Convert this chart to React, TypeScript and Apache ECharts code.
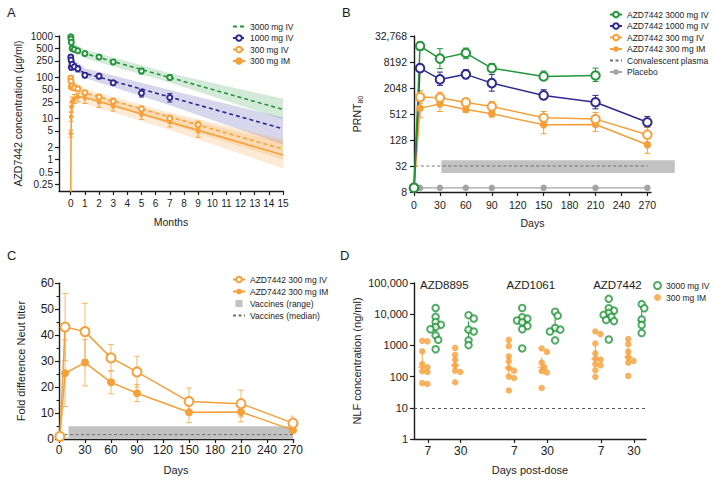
import React, { useEffect, useRef } from 'react';
import * as echarts from 'echarts';

const FONT = '"Liberation Sans", Arial, Helvetica, sans-serif';
const INK = '#1c1c1c';
const GREEN = '#23963b';
const PURPLE = '#2e2a8f';
const ORANGE = '#f6a03a';
const ORANGE_ERR = 'rgba(246,160,58,0.75)';
const GREY = '#a3a3a3';
const BAND_GREY = '#c2c2c2';

// ---------------- Panel A : PK (months, µg/ml) ----------------
const A_MONTH_TICKS = [0, 1, 2, 3, 4, 5, 6, 7, 8, 9, 10, 11, 12, 13, 14, 15];
const A_CONC_TICKS = [0.25, 0.5, 1, 2, 5, 10, 25, 50, 100, 250, 500, 1000];
const A_OBS_T = [0, 0.02, 0.04, 0.1, 0.25, 0.5, 1, 2, 3, 5, 7];
const A_OBS_T9 = [0, 0.02, 0.04, 0.1, 0.25, 0.5, 1, 2, 3, 5, 7, 9];
const A_3000IV = [960, 850, 700, 500, 470, 440, 375, 310, 235, 142, 98];
const A_3000IV_LO = [850, 760, 620, 440, 420, 400, 330, 275, 205, 120, 85];
const A_3000IV_HI = [1050, 950, 790, 560, 530, 490, 420, 350, 270, 165, 115];
const A_1000IV = [310, 260, 175, 205, 180, 160, 112, 106, 73, 41, 32];
const A_1000IV_LO = [270, 225, 150, 180, 155, 135, 97, 92, 64, 33, 25];
const A_1000IV_HI = [355, 300, 205, 235, 210, 190, 130, 122, 83, 51, 40];
const A_300IV = [95, 80, 58, 62, 55, 52, 42, 33, 26, 17, 10, 7];
const A_300IV_LO = [82, 68, 50, 54, 48, 45, 37, 28, 22, 14, 8.5, 5.6];
const A_300IV_HI = [110, 93, 67, 71, 63, 60, 48, 38, 31, 20, 12, 8.6];
const A_300IM = [4.3, 11, 19, 26, 30, 33, 31, 24.5, 19.5, 12.3, 8.1, 4.8];
const A_300IM_LO = [3.5, 8.5, 15, 20, 23, 25, 23, 18.5, 15, 9.5, 6.2, 3.5];
const A_300IM_HI = [5.2, 14, 24, 33, 38, 40, 40, 31, 25, 15.5, 10.5, 6.5];
// model (population PK) lines
const A_MODEL_T = [0.05, 0.25, 0.5, 1, 15];
const A_MODEL_3000 = [600, 480, 430, 375, 16.5];
const A_MODEL_1000 = [240, 190, 155, 125, 5.6];
const A_MODEL_300IV = [75, 58, 50, 42, 1.8];
const A_MODEL_IM_T = [0, 0.02, 0.05, 0.1, 0.2, 0.35, 0.5, 1, 15];
const A_MODEL_300IM = [0.1, 4.3, 12, 20, 27, 32, 34, 32, 1.3];
// prediction intervals
const A_BAND_T = [0.05, 1, 7, 15];
const A_BAND_3000_UP = [700, 470, 125, 30];
const A_BAND_3000_LO = [480, 290, 74, 9.5];
const A_BAND_1000_UP = [300, 165, 49, 10.5];
const A_BAND_1000_LO = [190, 95, 21, 2.3];
const A_BAND_300IV_UP = [90, 52, 14, 3.1];
const A_BAND_300IV_LO = [60, 33, 7.2, 1.0];
const A_BAND_IM_T = [0.02, 0.05, 0.2, 0.5, 1, 7, 15];
const A_BAND_300IM_UP = [8, 20, 36, 44, 42, 12, 2.6];
const A_BAND_300IM_LO = [2, 7, 20, 25, 23, 5.2, 0.62];

// ---------------- Panel B : PRNT80 (days) ----------------
const B_DAY_TICKS = [0, 30, 60, 90, 120, 150, 180, 210, 240, 270];
const B_DAYS = [0, 7, 30, 60, 90, 150, 210, 270];
const B_DAYS_3000 = [0, 7, 30, 60, 90, 150, 210];
const B_3000IV = [10, 19200, 9800, 13200, 5900, 3800, 4000];
const B_3000IV_LO = [10, 15300, 5750, 9800, 5250, 3200, 2900];
const B_3000IV_HI = [10, 23800, 16700, 17200, 7500, 5050, 5900];
const B_1000IV = [10, 5900, 3240, 4240, 2660, 1380, 960, 330];
const B_1000IV_LO = [10, 4970, 2350, 3370, 1730, 1100, 675, 252];
const B_1000IV_HI = [10, 7100, 4780, 5440, 4240, 1870, 1380, 450];
const B_300IV = [10, 1260, 1220, 950, 765, 420, 390, 170];
const B_300IV_LO = [10, 885, 850, 765, 585, 290, 277, 114];
const B_300IV_HI = [10, 1800, 1640, 1150, 1000, 585, 555, 252];
const B_300IM = [10, 700, 870, 650, 520, 288, 292, 99];
const B_300IM_LO = [10, 420, 585, 555, 435, 178, 202, 63];
const B_300IM_HI = [10, 1050, 1190, 765, 620, 435, 420, 162];
const B_PLACEBO = [10, 10, 10, 10, 10, 10, 10, 10];
const B_CONV_DAYS = [1.5, 270];
const B_CONV_MEDIAN = 32;
const B_CONV_RANGE_DAYS = [31.6, 301.7];
const B_CONV_RANGE = [22, 43.5];

// ---------------- Panel C : fold difference ----------------
const C_DAYS = [1, 7, 30, 60, 90, 150, 210, 270];
const C_300IV = [1.0, 43.1, 41.3, 31.2, 25.8, 14.4, 13.6, 6.1];
const C_300IV_LO = [null, 30.1, 30.5, 26.2, 20.0, 9.3, 8.5, 3.5];
const C_300IV_HI = [null, 56.0, 52.2, 36.3, 31.8, 19.6, 18.8, 8.8];
const C_300IM = [0.5, 25.3, 29.4, 21.8, 17.6, 10.3, 10.4, 3.4];
const C_300IM_LO = [null, 12.5, 20.4, 17.4, 14.4, 6.3, 6.6, 2.3];
const C_300IM_HI = [null, 38.1, 38.2, 26.2, 21.0, 14.0, 14.1, 4.5];
const C_VAX_RANGE_DAYS = [11, 270];
const C_VAX_RANGE = [0.4, 4.9];
const C_VAX_MEDIAN_DAYS = [0, 270];
const C_VAX_MEDIAN = 1.7;

// ---------------- Panel D : nasal lining fluid ----------------
const D_GROUPS = ['AZD8895', 'AZD1061', 'AZD7442'];
const D_8895_IM_D7 = [1400, 1350, 650, 250, 200, 150, 140, 62, 58];
const D_8895_IV_D7 = [15800, 8200, 5600, 4600, 3900, 3300, 2100, 1500, 750];
const D_8895_IM_D30 = [830, 500, 350, 230, 155, 140, 66];
const D_8895_IV_D30 = [9300, 7300, 3200, 2800, 1450, 1020];
const D_1061_IM_D7 = [1500, 950, 450, 310, 190, 155, 100, 90, 36];
const D_1061_IV_D7 = [15800, 8000, 7200, 6300, 5500, 4200, 3300, 800];
const D_1061_IM_D30 = [800, 620, 280, 200, 150, 135, 43];
const D_1061_IV_D30 = [12000, 9000, 3600, 3200, 2800, 1450];
const D_7442_IM_D7 = [2800, 2300, 1150, 560, 380, 350, 250, 230, 160, 98];
const D_7442_IV_D7 = [31000, 15500, 13000, 11000, 9500, 8300, 6500, 6000, 1550];
const D_7442_IM_D30 = [1600, 1100, 630, 420, 320, 280, 105];
const D_7442_IV_D30 = [21000, 15500, 6800, 5800, 4500, 2500];
const D_LLOQ = 10;

const L10 = (v: number) => Math.log10(v);
const L2 = (v: number) => Math.log2(v);

function errBars(idx: number, xs: number[], lo: any[], hi: any[], tf: (v: number) => number, color: string, cap: number, width = 1) {
  const data: number[][] = [];
  xs.forEach((x, i) => {
    if (lo[i] != null && hi[i] != null) data.push([x, tf(lo[i]), tf(hi[i])]);
  });
  return {
    type: 'custom', xAxisIndex: idx, yAxisIndex: idx, silent: true, z: 2, clip: true,
    encode: { x: 0, y: [1, 2] },
    data,
    renderItem: (_p: any, api: any) => {
      const x = api.value(0);
      const a = api.coord([x, api.value(1)]);
      const b = api.coord([x, api.value(2)]);
      const st = { stroke: color, lineWidth: width };
      return {
        type: 'group', children: [
          { type: 'line', shape: { x1: a[0], y1: a[1], x2: b[0], y2: b[1] }, style: st },
          { type: 'line', shape: { x1: a[0] - cap, y1: a[1], x2: a[0] + cap, y2: a[1] }, style: st },
          { type: 'line', shape: { x1: b[0] - cap, y1: b[1], x2: b[0] + cap, y2: b[1] }, style: st },
        ],
      };
    },
  };
}

function band(idx: number, ts: number[], up: number[], lo: number[], fill: string) {
  return {
    type: 'custom', xAxisIndex: idx, yAxisIndex: idx, silent: true, z: 1, clip: true,
    encode: { x: 0, y: [1, 2] },
    data: ts.map((t, i) => [t, L10(lo[i]), L10(up[i])]),
    renderItem: (p: any, api: any) => {
      if (p.dataIndex !== 0) return null;
      const pts: number[][] = [];
      for (let i = 0; i < ts.length; i++) pts.push(api.coord([ts[i], L10(up[i])]));
      for (let i = ts.length - 1; i >= 0; i--) pts.push(api.coord([ts[i], L10(lo[i])]));
      return { type: 'polygon', shape: { points: pts }, style: { fill } };
    },
  };
}

function rectBand(idx: number, name: string | undefined, xr: number[], yr: number[], tf: (v: number) => number, fill: string) {
  return {
    type: 'custom', name, xAxisIndex: idx, yAxisIndex: idx, silent: true, z: 1,
    itemStyle: { color: fill },
    encode: { x: [0, 2], y: [1, 3] },
    data: [[xr[0], tf(yr[0]), xr[1], tf(yr[1])]],
    renderItem: (_p: any, api: any) => {
      const a = api.coord([api.value(0), api.value(1)]);
      const b = api.coord([api.value(2), api.value(3)]);
      return { type: 'rect', shape: { x: a[0], y: b[1], width: b[0] - a[0], height: a[1] - b[1] }, style: { fill } };
    },
  };
}

function lineS(name: string | undefined, idx: number, xs: number[], ys: number[], tf: (v: number) => number, color: string, opt: any = {}) {
  return {
    type: 'line', name, xAxisIndex: idx, yAxisIndex: idx, silent: true, z: 3,
    data: xs.map((x, i) => [x, tf(ys[i])]),
    symbol: opt.symbol ?? 'none',
    showSymbol: opt.showSymbol ?? true,
    symbolSize: opt.size ?? 8,
    itemStyle: { color: opt.fill ?? color, borderColor: color, borderWidth: opt.bw ?? 1.4 },
    lineStyle: { color, width: opt.width ?? 1.5, type: opt.dash ?? 'solid' },
    clip: true,
  };
}

function scat(idx: number, xs: number[], ys: number[], tf: (v: number) => number, color: string, empty: boolean, size: number) {
  return {
    type: 'scatter', xAxisIndex: idx, yAxisIndex: idx, silent: true, z: 4,
    data: xs.map((x, i) => [x, tf(ys[i])]),
    symbol: empty ? 'emptyCircle' : 'circle',
    symbolSize: size,
    itemStyle: { color, borderColor: color, borderWidth: empty ? 1.1 : 0, opacity: 1 },
  };
}

// beeswarm placement (layout only, from the values)
const D_PX_PER_DEC = 31.26;
const D_PX_PER_UNIT = 86.6;
function swarm(values: number[], center: number, diam: number) {
  const order = values.map((_v, i) => i).sort((a, b) => values[b] - values[a]);
  const placed: { x: number; y: number }[] = [];
  const res: number[] = new Array(values.length);
  const step = 2.6;
  for (const i of order) {
    const y = L10(values[i]) * D_PX_PER_DEC;
    let chosen = 0;
    for (let k = 0; k < 7; k++) {
      const off = k === 0 ? 0 : (k % 2 === 1 ? 1 : -1) * Math.ceil(k / 2) * step;
      chosen = off;
      if (placed.every((p) => Math.hypot(p.x - off, p.y - y) >= diam * 0.72)) break;
    }
    placed.push({ x: chosen, y });
    res[i] = center + chosen / D_PX_PER_UNIT;
  }
  return res;
}
function quant(sorted: number[], p: number) {
  const idx = (sorted.length - 1) * p;
  const lo = Math.floor(idx), hi = Math.ceil(idx);
  return sorted[lo] + (sorted[hi] - sorted[lo]) * (idx - lo);
}

function axisStyle(fontSize: number) {
  return {
    axisLine: { show: true, onZero: false, lineStyle: { color: INK, width: 1.4 } },
    axisTick: { show: true, length: 4, lineStyle: { color: INK, width: 1.2 } },
    splitLine: { show: false },
    nameLocation: 'middle' as const,
    nameMoveOverlap: false,
    nameTextStyle: { color: INK, fontSize: 10.5, fontFamily: FONT },
    axisLabel: { color: INK, fontSize, fontFamily: FONT },
  };
}

function fmtLog(ticks: number[]) {
  return (v: number) => {
    let best = ticks[0];
    for (const t of ticks) if (Math.abs(Math.log10(t) - v) < Math.abs(Math.log10(best) - v)) best = t;
    return String(best);
  };
}

function buildOption() {
  const series: any[] = [];

  // ---- A ----
  series.push(band(0, A_BAND_T, A_BAND_3000_UP, A_BAND_3000_LO, 'rgba(35,150,59,0.20)'));
  series.push(band(0, A_BAND_T, A_BAND_1000_UP, A_BAND_1000_LO, 'rgba(60,52,160,0.20)'));
  series.push(band(0, A_BAND_T, A_BAND_300IV_UP, A_BAND_300IV_LO, 'rgba(246,160,58,0.22)'));
  series.push(band(0, A_BAND_IM_T, A_BAND_300IM_UP, A_BAND_300IM_LO, 'rgba(246,160,58,0.22)'));
  series.push(lineS('A:3000 mg IV', 0, A_MODEL_T, A_MODEL_3000, L10, GREEN, { symbol: 'emptyCircle', showSymbol: false, dash: [4, 3], width: 1.6, size: 5 }));
  series.push(lineS('A:1000 mg IV', 0, A_MODEL_T, A_MODEL_1000, L10, PURPLE, { symbol: 'emptyCircle', showSymbol: false, dash: [4, 3], width: 1.6, size: 5 }));
  series.push(lineS('A:300 mg IV', 0, A_MODEL_T, A_MODEL_300IV, L10, ORANGE, { symbol: 'emptyCircle', showSymbol: false, dash: [4, 3], width: 1.6, size: 5 }));
  series.push(lineS('A:300 mg IM', 0, A_MODEL_IM_T, A_MODEL_300IM, L10, ORANGE, { symbol: 'circle', showSymbol: false, width: 1.6, size: 5 }));
  series.push(errBars(0, A_OBS_T, A_3000IV_LO, A_3000IV_HI, L10, GREEN, 2.5));
  series.push(errBars(0, A_OBS_T, A_1000IV_LO, A_1000IV_HI, L10, PURPLE, 2.5));
  series.push(errBars(0, A_OBS_T9, A_300IV_LO, A_300IV_HI, L10, ORANGE, 2.5));
  series.push(errBars(0, A_OBS_T9, A_300IM_LO, A_300IM_HI, L10, ORANGE, 2.5));
  series.push(scat(0, A_OBS_T, A_3000IV, L10, GREEN, true, 5));
  series.push(scat(0, A_OBS_T, A_1000IV, L10, PURPLE, true, 5));
  series.push(scat(0, A_OBS_T9, A_300IV, L10, ORANGE, true, 5));
  series.push(scat(0, A_OBS_T9, A_300IM, L10, ORANGE, false, 4.5));

  // ---- B ----
  series.push(rectBand(1, undefined, B_CONV_RANGE_DAYS, B_CONV_RANGE, L2, BAND_GREY));
  series.push(lineS('B:Convalescent plasma', 1, B_CONV_DAYS, [B_CONV_MEDIAN, B_CONV_MEDIAN], L2, '#707070', { dash: [3, 2.5], width: 1 }));
  series.push(lineS('B:Placebo', 1, B_DAYS, B_PLACEBO, L2, GREY, { symbol: 'circle', size: 6.5, width: 1.2, bw: 0 }));
  series.push(errBars(1, B_DAYS_3000, B_3000IV_LO, B_3000IV_HI, L2, GREEN, 3));
  series.push(errBars(1, B_DAYS, B_1000IV_LO, B_1000IV_HI, L2, PURPLE, 3));
  series.push(errBars(1, B_DAYS, B_300IV_LO, B_300IV_HI, L2, ORANGE, 3));
  series.push(errBars(1, B_DAYS, B_300IM_LO, B_300IM_HI, L2, ORANGE, 3));
  series.push(lineS('B:AZD7442 300 mg IM', 1, B_DAYS, B_300IM, L2, ORANGE, { symbol: 'circle', size: 7.5, bw: 0 }));
  series.push(lineS('B:AZD7442 300 mg IV', 1, B_DAYS, B_300IV, L2, ORANGE, { symbol: 'emptyCircle', size: 8.5 }));
  series.push(lineS('B:AZD7442 1000 mg IV', 1, B_DAYS, B_1000IV, L2, PURPLE, { symbol: 'emptyCircle', size: 8.5 }));
  series.push(lineS('B:AZD7442 3000 mg IV', 1, B_DAYS_3000, B_3000IV, L2, GREEN, { symbol: 'emptyCircle', size: 8.5 }));

  // ---- C ----
  const id = (v: number) => v;
  series.push(rectBand(2, 'C:Vaccines (range)', C_VAX_RANGE_DAYS, C_VAX_RANGE, id, BAND_GREY));
  series.push(lineS('C:Vaccines (median)', 2, C_VAX_MEDIAN_DAYS, [C_VAX_MEDIAN, C_VAX_MEDIAN], id, '#707070', { dash: [3, 2.5], width: 1 }));
  series.push(errBars(2, C_DAYS, C_300IV_LO, C_300IV_HI, id, ORANGE_ERR, 3));
  series.push(errBars(2, C_DAYS, C_300IM_LO, C_300IM_HI, id, ORANGE_ERR, 3));
  series.push(lineS('C:AZD7442 300 mg IM', 2, C_DAYS, C_300IM, id, ORANGE, { symbol: 'circle', size: 8, bw: 0 }));
  series.push(lineS('C:AZD7442 300 mg IV', 2, C_DAYS, C_300IV, id, ORANGE, { symbol: 'emptyCircle', size: 9 }));

  // ---- D ----
  const clusters = [
    { g: 0, day: 7, im: D_8895_IM_D7, iv: D_8895_IV_D7 },
    { g: 0, day: 30, im: D_8895_IM_D30, iv: D_8895_IV_D30 },
    { g: 1, day: 7, im: D_1061_IM_D7, iv: D_1061_IV_D7 },
    { g: 1, day: 30, im: D_1061_IM_D30, iv: D_1061_IV_D30 },
    { g: 2, day: 7, im: D_7442_IM_D7, iv: D_7442_IV_D7 },
    { g: 2, day: 30, im: D_7442_IM_D30, iv: D_7442_IV_D30 },
  ];
  const imPts: number[][] = [];
  const ivPts: number[][] = [];
  const imStats: number[][] = [];
  const ivStats: number[][] = [];
  clusters.forEach((c) => {
    const tick = c.g + (c.day === 7 ? -0.19 : 0.19);
    const arms: [number[], number, number[][], number[][]][] = [
      [c.im, tick - 0.065, imPts, imStats],
      [c.iv, tick + 0.09, ivPts, ivStats],
    ];
    arms.forEach(([vals, center, pts, stats]) => {
      const xs = swarm(vals, center, 6.4);
      vals.forEach((v, i) => pts.push([xs[i], L10(v)]));
      const s = vals.map(L10).sort((a, b) => a - b);
      stats.push([center, quant(s, 0.25), quant(s, 0.75), quant(s, 0.5)]);
    });
  });
  const iqr = (data: number[][], color: string) => ({
    type: 'custom', xAxisIndex: 3, yAxisIndex: 3, silent: true, z: 2,
    encode: { x: 0, y: [1, 2, 3] },
    data,
    renderItem: (_p: any, api: any) => {
      const x = api.value(0);
      const a = api.coord([x, api.value(1)]);
      const b = api.coord([x, api.value(2)]);
      const m = api.coord([x, api.value(3)]);
      const st = { stroke: color, lineWidth: 1 };
      return {
        type: 'group', children: [
          { type: 'line', shape: { x1: a[0], y1: a[1], x2: b[0], y2: b[1] }, style: st },
          { type: 'line', shape: { x1: m[0] - 4, y1: m[1], x2: m[0] + 4, y2: m[1] }, style: st },
        ],
      };
    },
  });
  series.push(iqr(imStats, ORANGE));
  series.push(iqr(ivStats, GREEN));
  series.push({
    type: 'scatter', name: 'D:300 mg IM', xAxisIndex: 3, yAxisIndex: 3, silent: true, z: 4,
    data: imPts, symbol: 'circle', symbolSize: 6.5, itemStyle: { color: ORANGE },
    markLine: {
      silent: true, symbol: 'none', label: { show: false },
      lineStyle: { color: '#555', type: [3, 3], width: 1 },
      data: [{ yAxis: L10(D_LLOQ) }],
    },
  });
  series.push({
    type: 'scatter', name: 'D:3000 mg IV', xAxisIndex: 3, yAxisIndex: 3, silent: true, z: 4,
    data: ivPts, symbol: 'emptyCircle', symbolSize: 6.5,
    itemStyle: { color: GREEN, borderColor: GREEN, borderWidth: 1.1 },
  });

  const grids = [
    { left: 59, top: 36, width: 224, height: 155 },
    { left: 414, top: 36, width: 237, height: 156 },
    { left: 59, top: 283, width: 234, height: 156 },
    { left: 414, top: 283, width: 232, height: 156 },
  ].map((g) => ({ ...g, containLabel: false, outerBoundsMode: 'none' }));

  const ax = (fs: number) => axisStyle(fs);
  const xAxis: any[] = [
    {
      ...ax(10), gridIndex: 0, type: 'value', min: -0.83, max: 15, name: 'Months', nameGap: 25,
      axisTick: { ...ax(10).axisTick, customValues: A_MONTH_TICKS },
      axisLabel: { ...ax(10).axisLabel, customValues: A_MONTH_TICKS, margin: 7 },
    },
    {
      ...ax(10.5), gridIndex: 1, type: 'value', min: 0, max: 274.2, name: 'Days', nameGap: 25,
      axisTick: { ...ax(10.5).axisTick, customValues: B_DAY_TICKS },
      axisLabel: { ...ax(10.5).axisLabel, customValues: B_DAY_TICKS, margin: 7 },
    },
    {
      ...ax(12), gridIndex: 2, type: 'value', min: 0, max: 270, interval: 30, name: 'Days', nameGap: 25,
      nameTextStyle: { ...ax(12).nameTextStyle, fontSize: 11 },
      axisLabel: { ...ax(12).axisLabel, margin: 5 },
    },
    {
      ...ax(12), gridIndex: 3, type: 'value', min: -0.35, max: 2.33, name: 'Days post-dose', nameGap: 25,
      nameTextStyle: { ...ax(12).nameTextStyle, fontSize: 11 },
      axisTick: { ...ax(12).axisTick, customValues: [-0.19, 0.19, 0.81, 1.19, 1.81, 2.19] },
      axisLabel: {
        ...ax(12).axisLabel, margin: 6,
        customValues: [-0.19, 0.19, 0.81, 1.19, 1.81, 2.19],
        formatter: (v: number) => (v - Math.round(v) < 0 ? '7' : '30'),
      },
    },
    {
      gridIndex: 3, type: 'value', position: 'top', min: -0.35, max: 2.33,
      axisLine: { show: false, onZero: false }, axisTick: { show: false }, splitLine: { show: false },
      axisLabel: {
        color: INK, fontSize: 11.5, fontFamily: FONT, margin: -8,
        customValues: [0, 1, 2],
        formatter: (v: number) => D_GROUPS[Math.round(v)],
      },
    },
  ];

  const aTickVals = A_CONC_TICKS.map(L10);
  const yAxis: any[] = [
    {
      ...ax(10), gridIndex: 0, type: 'value', min: -0.762, max: 3,
      name: 'AZD7442 concentration (µg/ml)', nameGap: 36,
      axisTick: { ...ax(10).axisTick, customValues: aTickVals },
      axisLabel: { ...ax(10).axisLabel, customValues: aTickVals, margin: 6, formatter: fmtLog(A_CONC_TICKS) },
    },
    {
      ...ax(10.5), gridIndex: 1, type: 'value', min: 3, max: 15, interval: 2,
      name: '{a|PRNT}{b|80}', nameGap: 50,
      nameTextStyle: {
        color: INK, fontFamily: FONT,
        rich: {
          a: { fontSize: 10.5, fontFamily: FONT, color: INK, lineHeight: 15 },
          b: { fontSize: 7, fontFamily: FONT, color: INK, verticalAlign: 'bottom' },
        },
      },
      axisLabel: {
        ...ax(10.5).axisLabel, margin: 7,
        formatter: (v: number) => {
          const n = Math.round(Math.pow(2, v));
          return n >= 10000 ? n.toLocaleString('en-US') : String(n);
        },
      },
    },
    {
      ...ax(12), gridIndex: 2, type: 'value', min: 0, max: 60, interval: 10,
      name: 'Fold difference Neut titer', nameGap: 33,
      nameTextStyle: { ...ax(12).nameTextStyle, fontSize: 11 },
      minorTick: { show: true, splitNumber: 2, length: 2.5, lineStyle: { color: INK, width: 1 } },
      axisLabel: { ...ax(12).axisLabel, margin: 5 },
    },
    {
      ...ax(11), gridIndex: 3, type: 'value', min: 0, max: 5, interval: 1,
      name: 'NLF concentration (ng/ml)', nameGap: 52,
      nameTextStyle: { ...ax(11).nameTextStyle, fontSize: 11 },
      axisLabel: {
        ...ax(11).axisLabel, margin: 6,
        formatter: (v: number) => {
          const n = Math.round(Math.pow(10, v));
          return n >= 10000 ? n.toLocaleString('en-US') : String(n);
        },
      },
    },
  ];

  const legBase = {
    orient: 'vertical', padding: 0, itemGap: 2.5, selectedMode: false,
    formatter: (n: string) => n.slice(2),
    textStyle: { fontSize: 8.5, color: INK, fontFamily: FONT },
  };
  const legend = [
    {
      ...legBase, left: 232, top: 22, itemWidth: 12, itemHeight: 7,
      data: [{ name: 'A:3000 mg IV', itemStyle: { opacity: 0 } }, 'A:1000 mg IV', 'A:300 mg IV', 'A:300 mg IM'],
    },
    {
      ...legBase, left: 609, top: 10, itemWidth: 12, itemHeight: 7, itemGap: 2.5,
      data: ['B:AZD7442 3000 mg IV', 'B:AZD7442 1000 mg IV', 'B:AZD7442 300 mg IV', 'B:AZD7442 300 mg IM',
        { name: 'B:Convalescent plasma', itemStyle: { opacity: 0 } }, 'B:Placebo'],
    },
    {
      ...legBase, left: 232, top: 275, itemWidth: 12, itemHeight: 7, itemGap: 3,
      data: ['C:AZD7442 300 mg IV', 'C:AZD7442 300 mg IM',
        { name: 'C:Vaccines (range)', icon: 'path://M0,0H10V10H0Z' },
        { name: 'C:Vaccines (median)', itemStyle: { opacity: 0 } }],
    },
    {
      ...legBase, left: 653, top: 281, itemWidth: 7, itemHeight: 7, itemGap: 3,
      data: ['D:3000 mg IV', 'D:300 mg IM'],
    },
  ];

  const letter = (text: string, left: number, top: number) => ({
    text, left, top, padding: 0,
    textStyle: { fontSize: 13, fontWeight: 'normal', color: INK, fontFamily: FONT },
  });

  return {
    animation: false,
    backgroundColor: '#ffffff',
    textStyle: { fontFamily: FONT },
    title: [letter('A', 7, 6), letter('B', 342, 6), letter('C', 7, 249), letter('D', 340, 249)],
    grid: grids,
    xAxis,
    yAxis,
    legend,
    series,
  };
}

export default function App() {
  const ref = useRef<HTMLDivElement>(null);
  useEffect(() => {
    if (!ref.current) return;
    const chart = echarts.init(ref.current, undefined, { renderer: 'svg' });
    chart.setOption(buildOption() as any);
    return () => chart.dispose();
  }, []);
  return (
    <div
      ref={ref}
      style={{ position: 'fixed', left: 0, top: 0, width: 716, height: 481, background: '#fff' }}
    />
  );
}
